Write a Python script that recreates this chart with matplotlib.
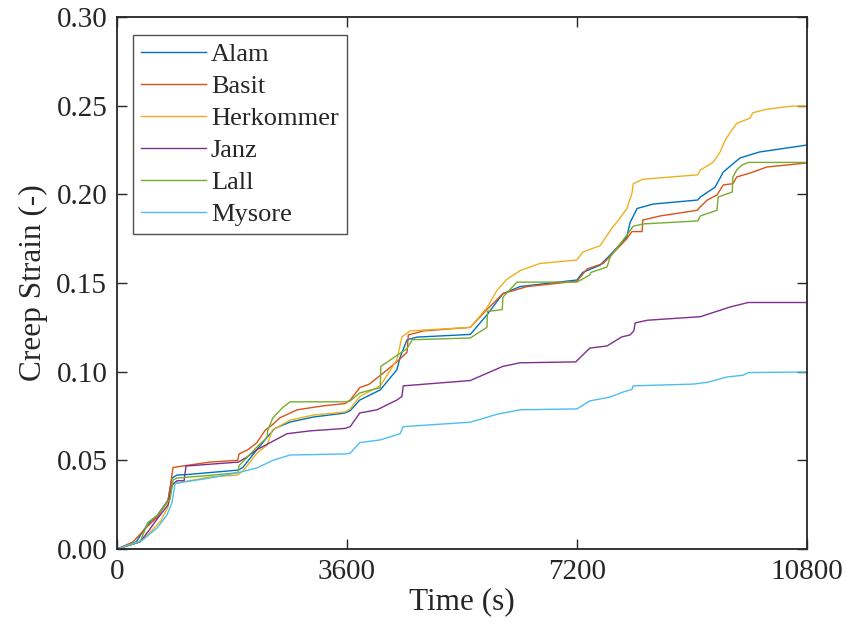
import matplotlib
matplotlib.use("Agg")
import matplotlib.pyplot as plt

plt.rcParams['font.family'] = ['Liberation Serif', 'DejaVu Serif']
plt.rcParams['mathtext.fontset'] = 'stix'

# ---------------- data ----------------
alam_t = [0, 300, 470, 630, 800, 860, 940, 1100, 1900, 1970, 2190, 2350, 2470, 2710, 3070, 3570, 3650,
          3800, 4120, 4380, 4430, 4540, 4700, 5530, 5790, 6040, 6310, 7200, 7290, 7560, 7720, 7980,
          8030, 8140, 8390, 9090, 9130, 9360, 9490, 9750, 10060, 10800]
alam_y = [0, 0.004, 0.0135, 0.019, 0.0276, 0.040, 0.0417, 0.042, 0.0445, 0.046, 0.056, 0.063, 0.068,
          0.0716, 0.0744, 0.0767, 0.078, 0.084, 0.0897, 0.101, 0.108, 0.118, 0.1195, 0.121, 0.132,
          0.144, 0.148, 0.1517, 0.156, 0.160, 0.1658, 0.176, 0.184, 0.192, 0.1945, 0.1968, 0.1985,
          0.204, 0.2126, 0.2205, 0.2239, 0.2278]

basit_t = [0, 250, 470, 630, 800, 845, 877, 1450, 1890, 1910, 2050, 2190, 2320, 2430, 2550, 2820,
           3220, 3570, 3650, 3800, 3950, 4160, 4380, 4540, 4560, 4800, 5530, 5790, 6040, 6420, 7200,
           7360, 7610, 7980, 8060, 8220, 8230, 8500, 9080, 9130, 9240, 9390, 9490, 9640, 9700, 9910,
           10170, 10800]
basit_y = [0, 0.004, 0.0125, 0.018, 0.0276, 0.0378, 0.046, 0.049, 0.050, 0.0536, 0.056, 0.060, 0.067,
           0.070, 0.074, 0.0785, 0.0807, 0.082, 0.084, 0.091, 0.093, 0.099, 0.1055, 0.111, 0.1207,
           0.123, 0.125, 0.135, 0.144, 0.148, 0.151, 0.158, 0.161, 0.175, 0.179, 0.179, 0.1855,
           0.1878, 0.191, 0.193, 0.1968, 0.1996, 0.2053, 0.206, 0.2098, 0.212, 0.2154, 0.2177]

herk_t = [0, 360, 480, 690, 800, 860, 910, 1450, 1890, 1970, 2190, 2350, 2430, 2710, 3070, 3570,
          3650, 3800, 4120, 4380, 4460, 4590, 5530, 5790, 5950, 6100, 6310, 6620, 7200, 7290, 7560,
          7760, 7830, 7980, 8060, 8080, 8230, 9090, 9130, 9330, 9440, 9520, 9600, 9700, 9910, 9950,
          10170, 10580, 10800]
herk_y = [0, 0.004, 0.008, 0.016, 0.024, 0.036, 0.037, 0.0406, 0.0417, 0.044, 0.054, 0.0586, 0.067,
          0.0727, 0.0755, 0.0773, 0.079, 0.086, 0.092, 0.1066, 0.1196, 0.123, 0.125, 0.136, 0.146,
          0.152, 0.157, 0.161, 0.163, 0.1675, 0.171, 0.1816, 0.1845, 0.192, 0.2006, 0.206, 0.2085,
          0.211, 0.2137, 0.218, 0.2239, 0.2306, 0.235, 0.240, 0.243, 0.246, 0.248, 0.2498, 0.2498]

janz_t = [0, 360, 490, 630, 800, 860, 940, 1050, 1080, 1900, 2040, 2190, 2400, 2660, 3020, 3570,
          3650, 3800, 4070, 4380, 4460, 4480, 5530, 6040, 6310, 7180, 7400, 7670, 7900, 8030, 8090,
          8110, 8300, 9130, 9600, 9880, 10800]
janz_y = [0, 0.004, 0.010, 0.017, 0.025, 0.036, 0.0385, 0.0385, 0.0468, 0.049, 0.052, 0.056, 0.060,
          0.065, 0.0666, 0.068, 0.069, 0.0767, 0.0785, 0.084, 0.086, 0.092, 0.095, 0.103, 0.105,
          0.1055, 0.1133, 0.1145, 0.1196, 0.1207, 0.123, 0.1275, 0.129, 0.131, 0.1365, 0.139, 0.139]

lall_t = [0, 360, 485, 630, 780, 830, 880, 940, 1450, 1890, 1910, 2190, 2350, 2360, 2440, 2600, 2710,
          3570, 3650, 3800, 4120, 4130, 4540, 4620, 5530, 5790, 5800, 6030, 6040, 6260, 7200, 7400,
          7420, 7670, 7720, 7980, 8080, 8230, 9090, 9130, 9390, 9410, 9630, 9640, 9700, 9780, 9880,
          10800]
lall_y = [0, 0.004, 0.015, 0.019, 0.026, 0.028, 0.039, 0.040, 0.0415, 0.043, 0.047, 0.0575, 0.063,
          0.067, 0.074, 0.080, 0.083, 0.083, 0.0835, 0.088, 0.091, 0.103, 0.113, 0.118, 0.119, 0.125,
          0.134, 0.135, 0.142, 0.1505, 0.1505, 0.1545, 0.156, 0.159, 0.1647, 0.177, 0.182, 0.1833,
          0.185, 0.1878, 0.191, 0.1985, 0.2013, 0.2098, 0.2137, 0.2165, 0.218, 0.218]

mysore_t = [0, 400, 630, 780, 860, 910, 1450, 1890, 2190, 2440, 2710, 3570, 3650, 3800, 4120, 4430,
            4480, 5530, 5950, 6310, 7200, 7400, 7720, 7920, 8060, 8080, 9020, 9240, 9550, 9800, 9880,
            10800]
mysore_y = [0, 0.005, 0.012, 0.019, 0.026, 0.037, 0.040, 0.043, 0.0457, 0.050, 0.053, 0.0536, 0.054,
            0.060, 0.0615, 0.065, 0.069, 0.0715, 0.076, 0.0785, 0.079, 0.0835, 0.0857, 0.0885, 0.090,
            0.092, 0.093, 0.094, 0.097, 0.098, 0.0995, 0.0998]

series_names = ["Alam", "Basit", "Herkommer", "Janz", "Lall", "Mysore"]
series_colors = ["#0072BD", "#D95319", "#EDB120", "#7E2F8E", "#77AC30", "#4DBEEE"]

x_ticks = [0, 3600, 7200, 10800]
y_ticks = [0.00, 0.05, 0.10, 0.15, 0.20, 0.25, 0.30]

# ---------------- figure ----------------
fig = plt.figure(figsize=(8.46, 6.33), dpi=100)
ax = fig.add_axes([117 / 846, 1 - 549 / 633, 690 / 846, 532 / 633])

data = [(alam_t, alam_y), (basit_t, basit_y), (herk_t, herk_y),
        (janz_t, janz_y), (lall_t, lall_y), (mysore_t, mysore_y)]
for (t, y), name, c in zip(data, series_names, series_colors):
    ax.plot(t, y, color=c, lw=1.0, label=name)

ax.set_xlim(0, 10800)
ax.set_ylim(0, 0.30)
ax.set_xticks(x_ticks)
ax.set_xticklabels([str(v) for v in x_ticks])
ax.set_yticks(y_ticks)
ax.set_yticklabels([f"{v:.2f}" for v in y_ticks])

axc = '#262626'
for s in ax.spines.values():
    s.set_color(axc)
    s.set_linewidth(1.3)
ax.tick_params(direction='in', length=7, width=1.0, colors=axc, labelsize=21,
               top=True, right=True, pad=7)
for lab in ax.get_xticklabels() + ax.get_yticklabels():
    lab.set_color(axc)

ax.set_xlabel("Time (s)", fontsize=22.5, color=axc, labelpad=2)
ax.set_ylabel("Creep Strain (-)", fontsize=22.5, color=axc, labelpad=6)

leg = ax.legend(loc='upper left', bbox_to_anchor=((133 - 117) / 690, (549 - 35) / 532),
                borderaxespad=0, fontsize=19, frameon=True, fancybox=False,
                handlelength=2.45, handletextpad=0.2, labelspacing=0.32,
                borderpad=0.3)
leg.get_frame().set_edgecolor('#262626')
leg.get_frame().set_linewidth(1.0)
for txt in leg.get_texts():
    txt.set_color(axc)

fig.savefig("out.png", dpi=100)
